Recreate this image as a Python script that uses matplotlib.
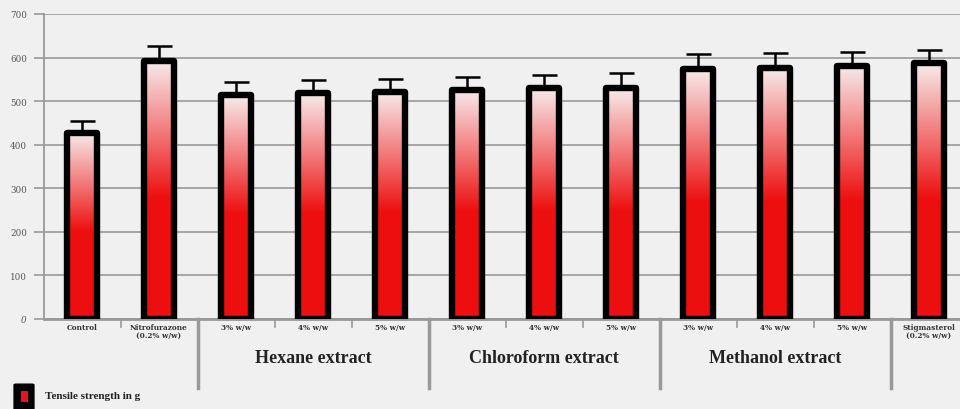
import numpy as np
import matplotlib.pyplot as plt
from matplotlib.patches import FancyBboxPatch, Rectangle
from matplotlib import font_manager
import matplotlib.patheffects as pe
import matplotlib.transforms as mtransforms

# Tensile strength (g)
categories = ['Control', 'Nitrofurazone\n(0.2% w/w)',
              '3% w/w', '4% w/w', '5% w/w',
              '3% w/w', '4% w/w', '5% w/w',
              '3% w/w', '4% w/w', '5% w/w',
              'Stigmasterol\n(0.2% w/w)']
tensile = [428, 592, 514, 518, 522, 526, 530, 530, 573, 577, 581, 587]
errors = [26, 34, 29, 30, 29, 29, 30, 34, 35, 33, 32, 31]
groups = ['Hexane extract', 'Chloroform extract', 'Methanol extract']
group_members = [(2, 4), (5, 7), (8, 10)]
separators = [1.5, 4.5, 7.5, 10.5]
yticks = [0, 100, 200, 300, 400, 500, 600, 700]

BG = '#f0f0f0'
RED = np.array([0.93, 0.06, 0.06])
LIGHT = np.array([0.97, 0.92, 0.92])
SERIF = 'Liberation Serif'

# fake the bold weight if no real bold face is found
bold_file = font_manager.findfont(font_manager.FontProperties(family=SERIF, weight='bold'))
bold_fx = [] if 'bold' in bold_file.lower() else [pe.withStroke(linewidth=0.7, foreground='#222222')]

fig = plt.figure(figsize=(9.6, 4.1), dpi=100, facecolor=BG)
ax = fig.add_axes([43.5 / 960, 90 / 410, 924 / 960, 305 / 410])
ax.set_facecolor(BG)

x = np.arange(len(categories))
width = 0.40

# vertical gradient: red in lower half, fading to pale pink at the top
f = np.linspace(0, 1, 256)
t = np.clip((f - 0.47) / 0.53, 0, 1)[:, None]
grad = (RED * (1 - t) + LIGHT * t)[:, None, :]

bars = ax.bar(x, tensile, width=width, facecolor='none', edgecolor='black',
              linewidth=4.6, joinstyle='round', zorder=3)
for xi, v, b in zip(x, tensile, bars):
    im = ax.imshow(grad, origin='lower', aspect='auto', interpolation='bilinear',
                   extent=[xi - width / 2, xi + width / 2, 0, v], zorder=2)
    im.set_clip_path(b)

ax.errorbar(x, tensile, yerr=[np.zeros(len(x)), errors], fmt='none',
            ecolor='black', elinewidth=1.8, capsize=9, capthick=1.8, zorder=4)

ax.set_xlim(-0.5, len(categories) - 0.5)
ax.set_ylim(0, 700)

# grid and spines
ax.set_yticks(yticks)
ax.set_yticklabels([str(v) for v in yticks], fontsize=6.3, family='DejaVu Serif',
                   color='#555555')
ax.get_yticklabels()[0].set_style('italic')
ax.yaxis.grid(True, color='#a0a0a0', linewidth=1.3, zorder=0)
ax.set_axisbelow(True)
ax.tick_params(axis='y', length=7, width=1.2, color='#999999', pad=5)
for s in ['top', 'right']:
    ax.spines[s].set_visible(False)
ax.spines['left'].set_color('#999999')
ax.spines['left'].set_linewidth(1.3)
ax.spines['bottom'].set_color('#999999')
ax.spines['bottom'].set_linewidth(2)

# category labels
ax.set_xticks(x)
ax.set_xticklabels(categories, fontsize=5.3, family='DejaVu Serif', fontweight='bold',
                   color='#333333', linespacing=0.95)
ax.tick_params(axis='x', length=0, pad=3)

# small ticks between categories, long separators between groups
trans = mtransforms.blended_transform_factory(ax.transData, ax.transAxes)
for b in np.arange(0.5, len(categories) - 1, 1.0):
    if b in separators:
        ax.plot([b, b], [0, -0.225], transform=trans, color='#999999',
                linewidth=2.5, clip_on=False)
    else:
        ax.plot([b, b], [0, -0.025], transform=trans, color='#999999',
                linewidth=1.2, clip_on=False)

for name, (a, b) in zip(groups, group_members):
    ax.text((a + b) / 2, -0.125, name, transform=trans, ha='center', va='center',
            fontsize=13, family=SERIF, fontweight='bold', color='#222222',
            path_effects=bold_fx)

# legend
fig.add_artist(FancyBboxPatch((16 / 960, 0 / 410), 16 / 960, 24 / 410,
                              boxstyle='round,pad=0.002', transform=fig.transFigure,
                              facecolor='black', edgecolor='black'))
fig.add_artist(Rectangle((21 / 960, 7 / 410), 7 / 960, 11 / 410,
                         transform=fig.transFigure, facecolor='#ee1111',
                         edgecolor='none'))
fig.text(45 / 960, 13 / 410, 'Tensile strength in g', ha='left', va='center',
         fontsize=8, family=SERIF, fontweight='bold', color='#222222',
         path_effects=bold_fx)

fig.savefig('out.png', dpi=100, facecolor=BG)
